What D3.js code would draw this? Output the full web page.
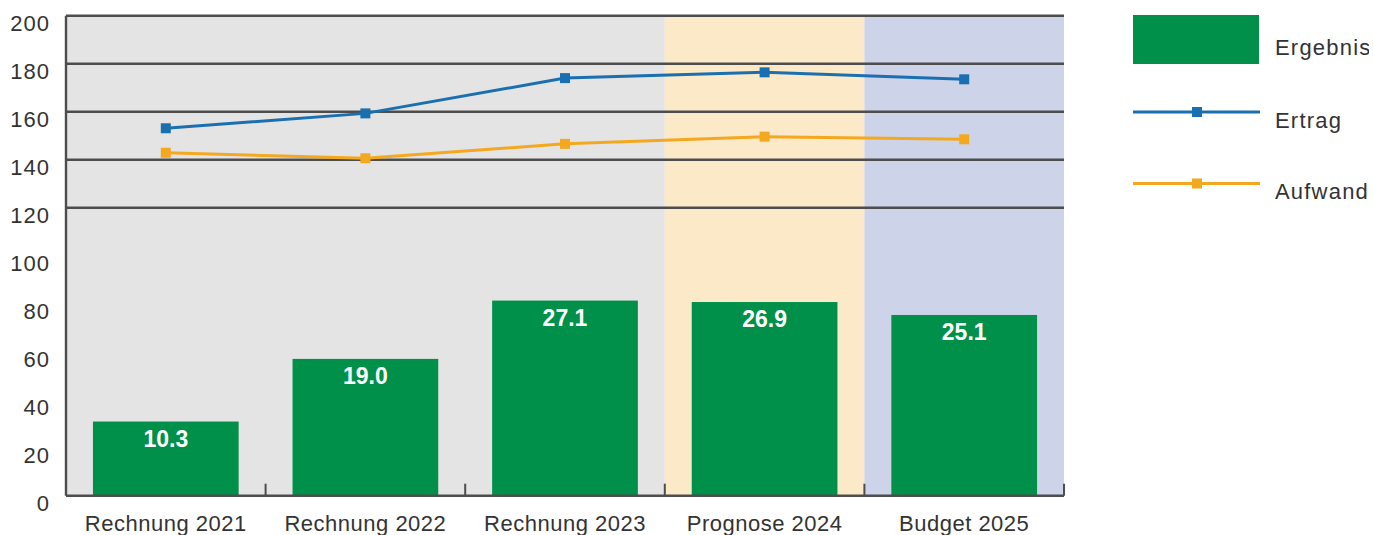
<!DOCTYPE html>
<html>
<head>
<meta charset="utf-8">
<script src="https://cdn.jsdelivr.net/npm/d3@7"></script>
<style>
  body { margin: 0; background: #fff; }
  svg { display: block; font-family: "Liberation Sans", Arial, sans-serif; }
</style>
</head>
<body>
<div id="chart"></div>
<script>
// chart values
const categories = ["Rechnung 2021", "Rechnung 2022", "Rechnung 2023", "Prognose 2024", "Budget 2025"]
const ergebnis = [10.3, 19.0, 27.1, 26.9, 25.1]
const ertrag = [153.1, 159.3, 174.0, 176.4, 173.5]
const aufwand = [142.9, 140.6, 146.6, 149.6, 148.5]
const yTicks = [0, 20, 40, 60, 80, 100, 120, 140, 160, 180, 200]
const gridTicks = [120, 140, 160, 180, 200]
const bands = [
	{ from: 0, to: 2, color: "#e4e4e4" },
	{ from: 3, to: 3, color: "#fce9c8" },
	{ from: 4, to: 4, color: "#cdd3e8" }
]
const legend = [
	{ name: "Ergebnis", type: "bar", color: "#00904a" },
	{ name: "Ertrag", type: "line", color: "#1a6fb0" },
	{ name: "Aufwand", type: "line", color: "#f4a81f" }
]

const width = 1373, height = 535
const margin = { top: 15.7, right: 309, bottom: 39.3, left: 66 }

const svg = d3.select("#chart").append("svg")
	.attr("width", width)
	.attr("height", height)
	.attr("viewBox", [0, 0, width, height])

// the original frame cuts the legend text on the right
svg.append("clipPath").attr("id", "legclip")
	.append("rect").attr("x", 1100).attr("y", 0).attr("width", 269).attr("height", 240)

const x = d3.scaleBand()
	.domain(categories)
	.range([margin.left, width - margin.right])
	.paddingInner(0.27).paddingOuter(0.135)
// full-band scale for backgrounds and ticks
const xb = d3.scaleBand()
	.domain(categories)
	.range([margin.left, width - margin.right])

const y = d3.scaleLinear()
	.domain([0, 200])
	.range([height - margin.bottom, margin.top])
// bars are drawn on their own (hidden) scale, 1/3 of the main one
const yBar = d3.scaleLinear()
	.domain([0, 200 / 3])
	.range([height - margin.bottom, margin.top])

// background bands
svg.append("g").selectAll("rect")
	.data(bands)
	.join("rect")
	.attr("x", d => xb(categories[d.from]))
	.attr("width", d => xb(categories[d.to]) + xb.bandwidth() - xb(categories[d.from]))
	.attr("y", y(200))
	.attr("height", y(0) - y(200))
	.attr("fill", d => d.color)

// grid lines
svg.append("g").selectAll("line")
	.data(gridTicks)
	.join("line")
	.attr("x1", margin.left)
	.attr("x2", width - margin.right)
	.attr("y1", d => y(d))
	.attr("y2", d => y(d))
	.attr("stroke", "#4d4d4d")
	.attr("stroke-width", 2.4)

// bars
svg.append("g").selectAll("rect")
	.data(ergebnis)
	.join("rect")
	.attr("x", (d, i) => x(categories[i]))
	.attr("width", x.bandwidth())
	.attr("y", d => yBar(d))
	.attr("height", d => yBar(0) - yBar(d))
	.attr("fill", legend[0].color)

svg.append("g").selectAll("text")
	.data(ergebnis)
	.join("text")
	.attr("x", (d, i) => x(categories[i]) + x.bandwidth() / 2)
	.attr("y", d => yBar(d) + 25)
	.attr("text-anchor", "middle")
	.attr("fill", "#fff")
	.style("font-size", "23px")
	.style("font-weight", "bold")
	.text(d => d.toFixed(1))

// lines
const cx = (d, i) => xb(categories[i]) + xb.bandwidth() / 2
const line = d3.line()
	.x(cx)
	.y(d => y(d))

;[[ertrag, legend[1].color], [aufwand, legend[2].color]].forEach(([vals, color]) => {
	svg.append("path")
		.datum(vals)
		.attr("fill", "none")
		.attr("stroke", color)
		.attr("stroke-width", 3)
		.attr("d", line)
	svg.append("g").selectAll("rect")
		.data(vals)
		.join("rect")
		.attr("x", (d, i) => cx(d, i) - 5)
		.attr("y", d => y(d) - 5)
		.attr("width", 10)
		.attr("height", 10)
		.attr("fill", color)
})

// left axis line
svg.append("line")
	.attr("x1", margin.left).attr("x2", margin.left)
	.attr("y1", y(200)).attr("y2", y(0))
	.attr("stroke", "#4d4d4d").attr("stroke-width", 2.4)

// bottom axis with upward ticks at band boundaries
svg.append("line")
	.attr("x1", margin.left).attr("x2", width - margin.right)
	.attr("y1", y(0)).attr("y2", y(0))
	.attr("stroke", "#4d4d4d").attr("stroke-width", 2.4)
svg.append("g").selectAll("line")
	.data(categories)
	.join("line")
	.attr("x1", d => xb(d) + xb.bandwidth())
	.attr("x2", d => xb(d) + xb.bandwidth())
	.attr("y1", y(0))
	.attr("y2", y(0) - 12)
	.attr("stroke", "#4d4d4d").attr("stroke-width", 2)

// y tick labels
svg.append("g").selectAll("text")
	.data(yTicks)
	.join("text")
	.attr("x", 50)
	.attr("y", d => y(d) + 15.5)
	.attr("text-anchor", "end")
	.attr("fill", "#333")
	.style("font-size", "22px")
	.style("letter-spacing", "1px")
	.text(d => d)

// category labels
svg.append("g").selectAll("text")
	.data(categories)
	.join("text")
	.attr("x", d => xb(d) + xb.bandwidth() / 2)
	.attr("y", 531)
	.attr("text-anchor", "middle")
	.attr("fill", "#333")
	.style("font-size", "22px")
	.style("letter-spacing", "0.5px")
	.text(d => d)

// legend
const lg = svg.append("g").attr("clip-path", "url(#legclip)")
const legendY = [39.5, 112, 183.5]
legend.forEach((d, i) => {
	const cy = legendY[i]
	if (d.type === "bar") {
		lg.append("rect")
			.attr("x", 1133).attr("y", 15)
			.attr("width", 126).attr("height", 49)
			.attr("fill", d.color)
	} else {
		lg.append("line")
			.attr("x1", 1133).attr("x2", 1260)
			.attr("y1", cy).attr("y2", cy)
			.attr("stroke", d.color).attr("stroke-width", 3)
		lg.append("rect")
			.attr("x", 1192).attr("y", cy - 5)
			.attr("width", 10).attr("height", 10)
			.attr("fill", d.color)
	}
	lg.append("text")
		.attr("x", 1275)
		.attr("y", cy + 15.5)
		.attr("fill", "#333")
		.style("font-size", "22px")
		.style("letter-spacing", "1.2px")
		.text(d.name)
})
</script>
</body>
</html>
